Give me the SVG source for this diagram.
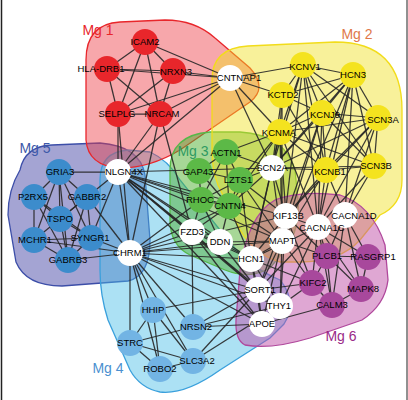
<svg xmlns="http://www.w3.org/2000/svg" width="408" height="400" viewBox="0 0 408 400">
<style>
.e line{stroke:#262626;stroke-width:1.25;stroke-opacity:0.9}
.n text{font-family:"Liberation Sans",Arial,sans-serif;font-size:9.5px;fill:#000;text-anchor:middle}
.w{fill:#fff}
.r{fill:#e8262b}
.y{fill:#f4e31f}
.g{fill:#5cb947}
.b4{fill:#72b4e4}
.b5{fill:#3c8ccc}
.m{fill:#a8489c}
.lab{font-family:"Liberation Sans",Arial,sans-serif;font-size:14px;text-anchor:middle}
.h{stroke-width:1.3}
</style>
<rect width="408" height="400" fill="#fff"/>
<g id="halos">
<path class="h" d="M20,170 Q25,146 52,145 L100,143 Q140,146 145,175 L150,240 Q150,276 128,281 L62,286 Q26,286 16,262 L8,215 Q8,190 20,170 Z" fill="#4a4aa8" fill-opacity="0.5" stroke="#3c4ea8"/>
<path class="h" d="M100,180 Q100,152 128,150 L150,152 Q168,160 180,180 L228,240 Q250,268 280,280 Q298,302 284,324 L270,338 L220,370 Q185,395 160,392 Q140,388 130,370 L108,320 Q100,295 100,270 Z" fill="#48bce6" fill-opacity="0.45" stroke="#3aa0dc"/>
<path class="h" d="M86,118 L86,60 Q86,24 120,22 L165,20 Q195,20 215,38 L250,68 Q268,88 250,102 L180,150 Q150,168 120,168 Q88,166 86,140 Z" fill="#ee3b45" fill-opacity="0.45" stroke="#e8262b"/>
<path class="h" d="M170,170 Q170,135 210,132 L240,132 Q285,135 295,170 L298,200 Q300,230 285,250 L270,268 Q250,280 225,270 L190,255 Q170,245 170,220 Z" fill="#4fb030" fill-opacity="0.5" stroke="#55b848"/>
<path class="h" d="M212,80 Q212,48 248,46 L335,42 Q402,42 402,110 L402,180 Q402,205 380,215 L360,240 Q340,262 300,262 L280,262 Q255,255 240,230 L218,185 Q212,170 212,150 Z" fill="#f0e020" fill-opacity="0.45" stroke="#f2dc1a"/>
<path class="h" d="M240,270 Q248,215 275,200 Q300,190 340,195 Q372,205 385,245 L388,280 Q385,305 362,320 L310,338 Q270,350 245,345 Q235,340 236,320 Z" fill="#c050a8" fill-opacity="0.5" stroke="#b0489c"/>
</g>
<g id="labels">
<text class="lab" x="98" y="35" fill="#e8262b">Mg 1</text>
<text class="lab" x="357" y="39" fill="#e0784a">Mg 2</text>
<text class="lab" x="193" y="156" fill="#2f9a62">Mg 3</text>
<text class="lab" x="108" y="373" fill="#4a90d0">Mg 4</text>
<text class="lab" x="35" y="153" fill="#3c58a8">Mg 5</text>
<text class="lab" x="341" y="341" fill="#9a2a88">Mg 6</text>
</g>
<g id="connectors" class="e">
<line x1="145" y1="42" x2="107" y2="69"/><line x1="145" y1="42" x2="173" y2="71"/><line x1="145" y1="42" x2="118" y2="114"/><line x1="145" y1="42" x2="160" y2="114"/><line x1="145" y1="42" x2="230" y2="78"/>
<line x1="107" y1="69" x2="173" y2="71"/><line x1="107" y1="69" x2="230" y2="78"/><line x1="107" y1="69" x2="118" y2="114"/><line x1="107" y1="69" x2="160" y2="114"/>
<line x1="173" y1="71" x2="230" y2="78"/><line x1="173" y1="71" x2="118" y2="114"/><line x1="173" y1="71" x2="160" y2="114"/><line x1="118" y1="114" x2="160" y2="114"/>
<line x1="160" y1="114" x2="230" y2="78"/><line x1="118" y1="114" x2="230" y2="78"/>
<line x1="118" y1="114" x2="118" y2="172"/><line x1="118" y1="114" x2="130" y2="253"/><line x1="160" y1="114" x2="118" y2="172"/><line x1="160" y1="114" x2="130" y2="253"/><line x1="160" y1="114" x2="192" y2="232"/>
<line x1="230" y1="78" x2="118" y2="172"/><line x1="230" y1="78" x2="303" y2="65"/><line x1="230" y1="78" x2="282" y2="95"/><line x1="230" y1="78" x2="280" y2="132"/><line x1="230" y1="78" x2="272" y2="168"/>
<line x1="303" y1="65" x2="353" y2="75"/><line x1="303" y1="65" x2="282" y2="95"/><line x1="303" y1="65" x2="322" y2="113"/><line x1="303" y1="65" x2="378" y2="118"/><line x1="303" y1="65" x2="280" y2="132"/><line x1="303" y1="65" x2="374" y2="166"/><line x1="303" y1="65" x2="326" y2="170"/><line x1="303" y1="65" x2="272" y2="168"/>
<line x1="353" y1="75" x2="282" y2="95"/><line x1="353" y1="75" x2="322" y2="113"/><line x1="353" y1="75" x2="378" y2="118"/><line x1="353" y1="75" x2="280" y2="132"/><line x1="353" y1="75" x2="374" y2="166"/><line x1="353" y1="75" x2="326" y2="170"/><line x1="353" y1="75" x2="272" y2="168"/>
<line x1="282" y1="95" x2="322" y2="113"/><line x1="282" y1="95" x2="280" y2="132"/><line x1="282" y1="95" x2="326" y2="170"/><line x1="282" y1="95" x2="272" y2="168"/>
<line x1="322" y1="113" x2="378" y2="118"/><line x1="322" y1="113" x2="280" y2="132"/><line x1="322" y1="113" x2="374" y2="166"/><line x1="322" y1="113" x2="326" y2="170"/><line x1="322" y1="113" x2="272" y2="168"/>
<line x1="378" y1="118" x2="280" y2="132"/><line x1="378" y1="118" x2="374" y2="166"/><line x1="378" y1="118" x2="326" y2="170"/><line x1="378" y1="118" x2="272" y2="168"/>
<line x1="280" y1="132" x2="374" y2="166"/><line x1="280" y1="132" x2="326" y2="170"/><line x1="280" y1="132" x2="272" y2="168"/><line x1="374" y1="166" x2="326" y2="170"/><line x1="374" y1="166" x2="272" y2="168"/><line x1="326" y1="170" x2="272" y2="168"/>
<line x1="303" y1="65" x2="318" y2="227"/><line x1="353" y1="75" x2="318" y2="227"/><line x1="353" y1="75" x2="345" y2="215"/><line x1="378" y1="118" x2="345" y2="215"/><line x1="378" y1="118" x2="318" y2="227"/>
<line x1="322" y1="113" x2="318" y2="227"/><line x1="322" y1="113" x2="282" y2="241"/><line x1="280" y1="132" x2="282" y2="241"/><line x1="280" y1="132" x2="286" y2="216"/><line x1="280" y1="132" x2="318" y2="227"/>
<line x1="326" y1="170" x2="318" y2="227"/><line x1="326" y1="170" x2="345" y2="215"/><line x1="326" y1="170" x2="282" y2="241"/><line x1="374" y1="166" x2="318" y2="227"/><line x1="374" y1="166" x2="345" y2="215"/>
<line x1="303" y1="65" x2="282" y2="241"/><line x1="282" y1="95" x2="282" y2="241"/><line x1="272" y1="168" x2="282" y2="241"/><line x1="272" y1="168" x2="286" y2="216"/><line x1="272" y1="168" x2="251" y2="259"/>
<line x1="322" y1="113" x2="286" y2="216"/><line x1="326" y1="170" x2="286" y2="216"/><line x1="280" y1="132" x2="251" y2="259"/><line x1="353" y1="75" x2="282" y2="241"/><line x1="378" y1="118" x2="286" y2="216"/>
<line x1="226" y1="152" x2="199" y2="171"/><line x1="226" y1="152" x2="240" y2="180"/><line x1="226" y1="152" x2="201" y2="200"/><line x1="226" y1="152" x2="229" y2="206"/>
<line x1="199" y1="171" x2="240" y2="180"/><line x1="199" y1="171" x2="201" y2="200"/><line x1="199" y1="171" x2="229" y2="206"/><line x1="240" y1="180" x2="201" y2="200"/><line x1="240" y1="180" x2="229" y2="206"/><line x1="201" y1="200" x2="229" y2="206"/>
<line x1="226" y1="152" x2="272" y2="168"/><line x1="240" y1="180" x2="272" y2="168"/><line x1="229" y1="206" x2="272" y2="168"/><line x1="229" y1="206" x2="192" y2="232"/><line x1="201" y1="200" x2="192" y2="232"/>
<line x1="201" y1="200" x2="220" y2="242"/><line x1="229" y1="206" x2="220" y2="242"/><line x1="229" y1="206" x2="251" y2="259"/><line x1="240" y1="180" x2="251" y2="259"/><line x1="240" y1="180" x2="282" y2="241"/>
<line x1="229" y1="206" x2="282" y2="241"/><line x1="220" y1="242" x2="251" y2="259"/><line x1="192" y1="232" x2="220" y2="242"/><line x1="192" y1="232" x2="251" y2="259"/><line x1="220" y1="242" x2="282" y2="241"/>
<line x1="240" y1="180" x2="286" y2="216"/><line x1="240" y1="180" x2="280" y2="132"/><line x1="229" y1="206" x2="280" y2="132"/><line x1="226" y1="152" x2="280" y2="132"/>
<line x1="59" y1="172" x2="118" y2="172"/><line x1="59" y1="172" x2="34" y2="197"/><line x1="59" y1="172" x2="87" y2="197"/><line x1="59" y1="172" x2="60" y2="219"/><line x1="59" y1="172" x2="34" y2="240"/><line x1="59" y1="172" x2="91" y2="238"/><line x1="59" y1="172" x2="68" y2="260"/>
<line x1="34" y1="197" x2="60" y2="219"/><line x1="34" y1="197" x2="34" y2="240"/><line x1="34" y1="197" x2="91" y2="238"/><line x1="34" y1="197" x2="68" y2="260"/>
<line x1="87" y1="197" x2="60" y2="219"/><line x1="87" y1="197" x2="34" y2="240"/><line x1="87" y1="197" x2="68" y2="260"/><line x1="87" y1="197" x2="91" y2="238"/><line x1="87" y1="197" x2="130" y2="253"/>
<line x1="60" y1="219" x2="91" y2="238"/><line x1="60" y1="219" x2="68" y2="260"/><line x1="34" y1="240" x2="91" y2="238"/><line x1="34" y1="240" x2="68" y2="260"/><line x1="91" y1="238" x2="68" y2="260"/>
<line x1="68" y1="260" x2="130" y2="253"/><line x1="91" y1="238" x2="130" y2="253"/><line x1="34" y1="240" x2="130" y2="253"/><line x1="87" y1="197" x2="118" y2="172"/><line x1="91" y1="238" x2="118" y2="172"/>
<line x1="118" y1="172" x2="192" y2="232"/><line x1="118" y1="172" x2="220" y2="242"/><line x1="118" y1="172" x2="251" y2="259"/><line x1="118" y1="172" x2="282" y2="241"/><line x1="118" y1="172" x2="258" y2="290"/><line x1="118" y1="172" x2="229" y2="206"/>
<line x1="118" y1="172" x2="272" y2="168"/><line x1="118" y1="172" x2="262" y2="324"/><line x1="118" y1="172" x2="130" y2="253"/><line x1="118" y1="172" x2="201" y2="200"/><line x1="118" y1="172" x2="280" y2="306"/><line x1="118" y1="172" x2="286" y2="216"/>
<line x1="130" y1="253" x2="192" y2="232"/><line x1="130" y1="253" x2="220" y2="242"/><line x1="130" y1="253" x2="251" y2="259"/><line x1="130" y1="253" x2="258" y2="290"/><line x1="130" y1="253" x2="262" y2="324"/><line x1="130" y1="253" x2="280" y2="306"/>
<line x1="130" y1="253" x2="282" y2="241"/><line x1="130" y1="253" x2="153" y2="310"/><line x1="130" y1="253" x2="130" y2="343"/><line x1="130" y1="253" x2="160" y2="369"/><line x1="130" y1="253" x2="193" y2="361"/><line x1="130" y1="253" x2="193" y2="327"/>
<line x1="130" y1="253" x2="201" y2="200"/><line x1="130" y1="253" x2="229" y2="206"/><line x1="130" y1="253" x2="286" y2="216"/>
<line x1="153" y1="310" x2="130" y2="343"/><line x1="153" y1="310" x2="160" y2="369"/><line x1="153" y1="310" x2="193" y2="361"/><line x1="153" y1="310" x2="258" y2="290"/>
<line x1="130" y1="343" x2="193" y2="327"/><line x1="130" y1="343" x2="160" y2="369"/><line x1="130" y1="343" x2="193" y2="361"/><line x1="160" y1="369" x2="193" y2="361"/>
<line x1="193" y1="327" x2="262" y2="324"/><line x1="193" y1="327" x2="258" y2="290"/><line x1="193" y1="327" x2="280" y2="306"/><line x1="193" y1="361" x2="258" y2="290"/><line x1="193" y1="361" x2="280" y2="306"/><line x1="193" y1="327" x2="192" y2="232"/>
<line x1="327" y1="256" x2="368" y2="257"/><line x1="327" y1="256" x2="312" y2="283"/><line x1="327" y1="256" x2="361" y2="289"/><line x1="327" y1="256" x2="332" y2="305"/><line x1="368" y1="257" x2="361" y2="289"/>
<line x1="312" y1="283" x2="332" y2="305"/><line x1="361" y1="289" x2="332" y2="305"/><line x1="312" y1="283" x2="282" y2="241"/><line x1="312" y1="283" x2="286" y2="216"/><line x1="312" y1="283" x2="318" y2="227"/>
<line x1="332" y1="305" x2="262" y2="324"/><line x1="332" y1="305" x2="318" y2="227"/><line x1="332" y1="305" x2="345" y2="215"/><line x1="345" y1="215" x2="327" y2="256"/><line x1="345" y1="215" x2="368" y2="257"/><line x1="345" y1="215" x2="361" y2="289"/>
<line x1="318" y1="227" x2="327" y2="256"/><line x1="318" y1="227" x2="368" y2="257"/><line x1="318" y1="227" x2="361" y2="289"/><line x1="282" y1="241" x2="327" y2="256"/><line x1="282" y1="241" x2="280" y2="306"/><line x1="282" y1="241" x2="258" y2="290"/>
<line x1="282" y1="241" x2="251" y2="259"/><line x1="286" y1="216" x2="282" y2="241"/><line x1="286" y1="216" x2="327" y2="256"/><line x1="286" y1="216" x2="318" y2="227"/><line x1="251" y1="259" x2="258" y2="290"/><line x1="258" y1="290" x2="280" y2="306"/>
<line x1="258" y1="290" x2="262" y2="324"/><line x1="280" y1="306" x2="262" y2="324"/><line x1="251" y1="259" x2="312" y2="283"/><line x1="258" y1="290" x2="312" y2="283"/><line x1="280" y1="306" x2="312" y2="283"/><line x1="282" y1="241" x2="262" y2="324"/>
<line x1="286" y1="216" x2="258" y2="290"/><line x1="318" y1="227" x2="258" y2="290"/><line x1="286" y1="216" x2="280" y2="306"/><line x1="318" y1="227" x2="280" y2="306"/><line x1="251" y1="259" x2="280" y2="306"/><line x1="251" y1="259" x2="262" y2="324"/>
<line x1="220" y1="242" x2="258" y2="290"/><line x1="192" y1="232" x2="258" y2="290"/><line x1="192" y1="232" x2="262" y2="324"/><line x1="251" y1="259" x2="286" y2="216"/><line x1="251" y1="259" x2="318" y2="227"/>
</g>
<g id="nodes" class="n">
<g id="ICAM2"><circle class="r" cx="145" cy="42" r="13"/><text x="145" y="45.4">ICAM2</text></g>
<g id="HLA-DRB1"><circle class="r" cx="107" cy="69" r="13"/><text x="101" y="72.4">HLA-DRB1</text></g>
<g id="NRXN3"><circle class="r" cx="173" cy="71" r="13"/><text x="176" y="75">NRXN3</text></g>
<g id="SELPLG"><circle class="r" cx="118" cy="114" r="13"/><text x="117" y="117.4">SELPLG</text></g>
<g id="NRCAM"><circle class="r" cx="160" cy="114" r="13"/><text x="162" y="117.4">NRCAM</text></g>
<g id="CNTNAP1"><circle class="w" cx="230" cy="78" r="13"/><text x="239" y="81.4">CNTNAP1</text></g>
<g id="KCNV1"><circle class="y" cx="303" cy="65" r="13"/><text x="305" y="70">KCNV1</text></g>
<g id="HCN3"><circle class="y" cx="353" cy="75" r="13"/><text x="353" y="78.4">HCN3</text></g>
<g id="KCTD2"><circle class="y" cx="282" cy="95" r="13"/><text x="283" y="98.4">KCTD2</text></g>
<g id="KCNJ9"><circle class="y" cx="322" cy="113" r="13"/><text x="325" y="118">KCNJ9</text></g>
<g id="SCN3A"><circle class="y" cx="378" cy="118" r="13"/><text x="383" y="123">SCN3A</text></g>
<g id="KCNMA"><circle class="y" cx="280" cy="132" r="13"/><text x="279" y="136">KCNMA</text></g>
<g id="SCN3B"><circle class="y" cx="374" cy="166" r="13"/><text x="376" y="169.4">SCN3B</text></g>
<g id="KCNB1"><circle class="y" cx="326" cy="170" r="13"/><text x="330" y="175">KCNB1</text></g>
<g id="SCN2A"><circle class="w" cx="272" cy="168" r="13"/><text x="272" y="171.4">SCN2A</text></g>
<g id="ACTN1"><circle class="g" cx="226" cy="152" r="13"/><text x="226" y="156">ACTN1</text></g>
<g id="GAP43"><circle class="g" cx="199" cy="171" r="13"/><text x="198" y="175">GAP43</text></g>
<g id="LZTS1"><circle class="g" cx="240" cy="180" r="13"/><text x="238" y="183.4">LZTS1</text></g>
<g id="RHOC"><circle class="g" cx="201" cy="200" r="13"/><text x="200" y="203.4">RHOC</text></g>
<g id="CNTN4"><circle class="g" cx="229" cy="206" r="13"/><text x="230" y="209.4">CNTN4</text></g>
<g id="FZD3"><circle class="w" cx="192" cy="232" r="13"/><text x="192" y="235.4">FZD3</text></g>
<g id="DDN"><circle class="w" cx="220" cy="242" r="13"/><text x="220" y="245.4">DDN</text></g>
<g id="GRIA3"><circle class="b5" cx="59" cy="172" r="13"/><text x="60" y="175.4">GRIA3</text></g>
<g id="P2RX5"><circle class="b5" cx="34" cy="197" r="13"/><text x="33" y="200.4">P2RX5</text></g>
<g id="GABBR2"><circle class="b5" cx="87" cy="197" r="13"/><text x="87" y="200.4">GABBR2</text></g>
<g id="TSPO"><circle class="b5" cx="60" cy="219" r="13"/><text x="60" y="222.4">TSPO</text></g>
<g id="MCHR1"><circle class="b5" cx="34" cy="240" r="13"/><text x="35" y="243.4">MCHR1</text></g>
<g id="SYNGR1"><circle class="b5" cx="91" cy="238" r="13"/><text x="90" y="241.4">SYNGR1</text></g>
<g id="GABRB3"><circle class="b5" cx="68" cy="260" r="13"/><text x="68" y="263.4">GABRB3</text></g>
<g id="NLGN4X"><circle class="w" cx="118" cy="172" r="13"/><text x="124" y="175.4">NLGN4X</text></g>
<g id="CHRM1"><circle class="w" cx="130" cy="253" r="13"/><text x="130" y="256.4">CHRM1</text></g>
<g id="HHIP"><circle class="b4" cx="153" cy="310" r="13"/><text x="153" y="313.4">HHIP</text></g>
<g id="NRSN2"><circle class="b4" cx="193" cy="327" r="13"/><text x="196" y="330.4">NRSN2</text></g>
<g id="STRC"><circle class="b4" cx="130" cy="343" r="13"/><text x="130" y="346.4">STRC</text></g>
<g id="SLC3A2"><circle class="b4" cx="193" cy="361" r="13"/><text x="197" y="364.4">SLC3A2</text></g>
<g id="ROBO2"><circle class="b4" cx="160" cy="369" r="13"/><text x="160" y="372.4">ROBO2</text></g>
<g id="KIF13B"><circle class="w" cx="286" cy="216" r="13"/><text x="288" y="219.4">KIF13B</text></g>
<g id="CACNA1D"><circle class="w" cx="345" cy="215" r="13"/><text x="354" y="219">CACNA1D</text></g>
<g id="CACNA1C"><circle class="w" cx="318" cy="227" r="13"/><text x="322" y="231">CACNA1C</text></g>
<g id="MAPT"><circle class="w" cx="282" cy="241" r="13"/><text x="282" y="244.4">MAPT</text></g>
<g id="HCN1"><circle class="w" cx="251" cy="259" r="13"/><text x="251" y="262.4">HCN1</text></g>
<g id="SORT1"><circle class="w" cx="258" cy="290" r="13"/><text x="260" y="293.4">SORT1</text></g>
<g id="THY1"><circle class="w" cx="280" cy="306" r="13"/><text x="279" y="309.4">THY1</text></g>
<g id="APOE"><circle class="w" cx="262" cy="324" r="13"/><text x="262" y="327.4">APOE</text></g>
<g id="PLCB1"><circle class="m" cx="327" cy="256" r="13"/><text x="327" y="259.4">PLCB1</text></g>
<g id="RASGRP1"><circle class="m" cx="368" cy="257" r="13"/><text x="373" y="260.4">RASGRP1</text></g>
<g id="KIFC2"><circle class="m" cx="312" cy="283" r="13"/><text x="313" y="286.4">KIFC2</text></g>
<g id="MAPK8"><circle class="m" cx="361" cy="289" r="13"/><text x="363" y="292.4">MAPK8</text></g>
<g id="CALM3"><circle class="m" cx="332" cy="305" r="13"/><text x="332" y="308.4">CALM3</text></g>
</g>
<g id="frame" stroke="#222" fill="none">
<line x1="1.5" y1="0" x2="1.5" y2="400" stroke-width="1.5"/>
<line x1="407" y1="0" x2="407" y2="400" stroke-width="1"/>
</g>
</svg>
